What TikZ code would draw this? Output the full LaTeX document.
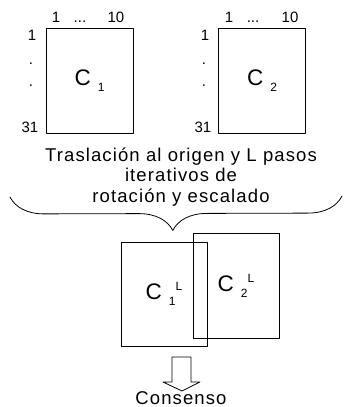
\documentclass[tikz,border=0pt]{standalone}
\usepackage{fontspec}
\setmainfont{Liberation Sans}
\usetikzlibrary{decorations.pathreplacing}
\newcommand{\matname}[2]{C\hspace{7pt}\raisebox{-6pt}{\fontsize{12}{12}\selectfont #1}#2}
\newcommand{\supl}{\raisebox{9pt}{\fontsize{12}{12}\selectfont L}}
\begin{document}
\begin{tikzpicture}[x=1pt,y=-1pt,line join=round,line cap=round]
	\tikzset{matbox/.style={draw,line width=1pt,minimum width=87pt,minimum height=105pt,inner sep=0pt,font=\fontsize{22.5}{22.5}\selectfont},
		idx/.style={inner sep=0pt,anchor=base,font=\fontsize{15}{15}\selectfont},
		txt/.style={inner sep=0pt,anchor=base,font=\addfontfeature{LetterSpace=6}\fontsize{18.5}{20}\selectfont}}
	\useasboundingbox (0,0) rectangle (343,407);
	% matrices originales
	\node[matbox] (c1) at (89.5,80.5) {\matname{1}{}};
	\node[matbox] (c2) at (262,80.5) {\matname{2}{}};
	\node[idx] (c1a) at (56,22) {1};
	\node[idx] (c1b) at (80,22) {...};
	\node[idx] (c1c) at (116,22) {10};
	\node[idx] (c1d) at (32,40) {1};
	\node[idx] (c1e) at (31,64) {.};
	\node[idx] (c1f) at (31,86) {.};
	\node[idx] (c1g) at (30,132) {31};
	\node[idx] (c2a) at (229,22) {1};
	\node[idx] (c2b) at (253,22) {...};
	\node[idx] (c2c) at (290,22) {10};
	\node[idx] (c2d) at (205,40) {1};
	\node[idx] (c2e) at (204,64) {.};
	\node[idx] (c2f) at (204,86) {.};
	\node[idx] (c2g) at (203,132) {31};
	% texto y llave
	\node[txt] (t1) at (181,161) {Traslación al origen y L pasos};
	\node[txt] (t2) at (181,181.5) {iterativos de};
	\node[txt] (t3) at (181,202) {rotación y escalado};
	\draw[line width=0.8pt,decorate,decoration={brace,amplitude=34pt,aspect=0.51}] (342,196) -- (10,197);
	% matrices tras L pasos
	\node[matbox,minimum width=86pt,minimum height=104pt] (c1l) at (164,294) {\matname{1}{\supl}};
	\node[matbox,minimum width=86pt,minimum height=105pt] (c2l) at (236,285.5) {\matname{2}{\supl}};
	% flecha
	\draw[line width=0.8pt] (172,357) -- (191,357) -- (191,382) -- (200,382) -- (182,391) -- (163,382) -- (172,382) -- cycle;
	\node[txt] (cons) at (181,404) {Consenso};
\end{tikzpicture}
\end{document}
